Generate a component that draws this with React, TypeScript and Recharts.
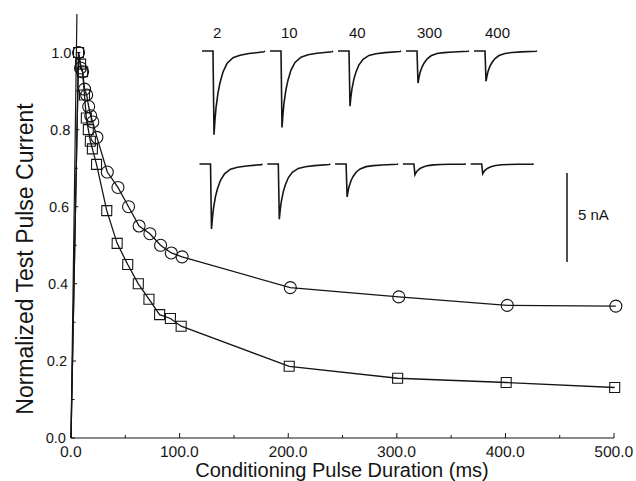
import React from "react";
import { ComposedChart, Line, Scatter, XAxis, YAxis } from "recharts";

// conditioning pulse durations (ms)
const durations = [2, 4, 6, 8, 10, 12, 14, 16, 20, 30, 40, 50, 60, 70, 80, 90, 100, 200, 300, 400, 500];
// normalized test pulse current, circles
const circleValues = [1.0, 0.96, 0.95, 0.905, 0.89, 0.86, 0.836, 0.82, 0.78, 0.69, 0.65, 0.6, 0.55, 0.53, 0.5, 0.48, 0.47, 0.39, 0.366, 0.344, 0.342];
// normalized test pulse current, squares
const squareValues = [1.0, 0.97, 0.95, 0.89, 0.83, 0.8, 0.77, 0.75, 0.71, 0.59, 0.505, 0.45, 0.4, 0.36, 0.32, 0.31, 0.29, 0.186, 0.155, 0.144, 0.131];
// the curves start at the origin
const curveStart = { x: 0, y: 0 };

const xTicks = [0, 50, 100, 150, 200, 250, 300, 350, 400, 450, 500];
const yTicks = [0, 0.1, 0.2, 0.3, 0.4, 0.5, 0.6, 0.7, 0.8, 0.9, 1.0];

// inset: example current traces (peak amplitude in nA)
const traceLabels = ["2", "10", "40", "300", "400"];
const topPeaks = [4.7, 4.3, 3.1, 1.8, 1.7];
const bottomPeaks = [3.65, 3.1, 1.85, 0.6, 0.55];
// recovery shape: px after peak, fraction of peak left
const decayT = [0, 1, 2, 4, 6, 9, 13, 19, 26, 35, 50];
const decayFrac = [1, 0.82, 0.68, 0.5, 0.38, 0.25, 0.15, 0.08, 0.05, 0.03, 0.01];

const circleData = durations.map((x, i) => ({ x, y: circleValues[i] }));
const squareData = durations.map((x, i) => ({ x, y: squareValues[i] }));

const FONT = "'Liberation Sans', Arial, Helvetica, sans-serif";
const INK = "#151515";
const PLOT_LEFT = 71;
const PLOT_BOTTOM = 438;
const PX_PER_NA = 17.8;

const XTick = (props: any) => {
  const { x, payload } = props;
  const v = payload.value as number;
  const major = v % 100 === 0;
  return (
    <g>
      <line x1={x} x2={x} y1={PLOT_BOTTOM} y2={PLOT_BOTTOM - (major ? 5 : 3)} stroke={INK} />
      {major && (
        <text x={x} y={457} textAnchor="middle" fontSize={15.5} fontFamily={FONT} fill={INK}>
          {v.toFixed(1)}
        </text>
      )}
    </g>
  );
};

const YTick = (props: any) => {
  const { y, payload } = props;
  const v = payload.value as number;
  const major = Math.round(v * 10) % 2 === 0;
  return (
    <g>
      <line x1={PLOT_LEFT} x2={PLOT_LEFT + (major ? 4 : 3)} y1={y} y2={y} stroke={INK} />
      {major && (
        <text x={66} y={y + 5} textAnchor="end" fontSize={14.5} fontFamily={FONT} fill={INK}>
          {v.toFixed(1)}
        </text>
      )}
    </g>
  );
};

const circleShape = (p: any) => <circle cx={p.cx} cy={p.cy} r={6} fill="none" stroke={INK} strokeWidth={1.1} />;
const squareShape = (p: any) => (
  <rect x={p.cx - 5} y={p.cy - 5} width={10} height={10} fill="none" stroke={INK} strokeWidth={1.1} />
);

function tracePath(dropX: number, baseY: number, peakNa: number) {
  const amp = peakNa * PX_PER_NA;
  let d = `M ${dropX - 11} ${baseY} L ${dropX} ${baseY} L ${dropX + 1} ${baseY + amp}`;
  decayT.forEach((t, i) => {
    d += ` L ${dropX + 1 + t} ${baseY + amp * decayFrac[i]}`;
  });
  d += ` L ${dropX + 52} ${baseY}`;
  return d;
}

function Inset() {
  return (
    <svg width={636} height={481} style={{ position: "absolute", left: 0, top: 0, pointerEvents: "none" }}>
      {traceLabels.map((lab, i) => {
        const topX = 213 + i * 68;
        const botX = 210.5 + i * 67.8;
        return (
          <g key={lab}>
            <text x={topX} y={38} fontSize={15} fontFamily={FONT} fill={INK}>
              {lab}
            </text>
            <path d={tracePath(topX, 51, topPeaks[i])} fill="none" stroke={INK} strokeWidth={1.6} />
            <path d={tracePath(botX, 164, bottomPeaks[i])} fill="none" stroke={INK} strokeWidth={1.6} />
          </g>
        );
      })}
      {/* 5 nA scale bar */}
      <line x1={567} x2={567} y1={173} y2={173 + 5 * PX_PER_NA} stroke={INK} strokeWidth={1.5} />
      <text x={578} y={220} fontSize={15} fontFamily={FONT} fill={INK}>
        5 nA
      </text>
    </svg>
  );
}

export default function App() {
  return (
    <div style={{ position: "absolute", left: 0, top: 0, width: 636, height: 481, background: "#fff" }}>
      {/* the scanned original leans slightly to the right */}
      <div style={{ position: "absolute", left: 0, top: 0, transform: "skewX(-0.8deg)", transformOrigin: "0 438px" }}>
        <ComposedChart width={636} height={481} margin={{ top: 14, right: 22, bottom: 0, left: 0 }}>
          <XAxis
            dataKey="x"
            type="number"
            domain={[0, 500]}
            ticks={xTicks}
            interval={0}
            height={43}
            axisLine={{ stroke: INK, strokeWidth: 1.2 }}
            tickLine={false}
            tick={<XTick />}
          />
          <YAxis
            type="number"
            domain={[0, 1.1]}
            ticks={yTicks}
            interval={0}
            width={71}
            axisLine={{ stroke: INK, strokeWidth: 1.2 }}
            tickLine={false}
            tick={<YTick />}
          />
          <Line
            data={[curveStart, ...circleData]}
            dataKey="y"
            type="linear"
            stroke={INK}
            strokeWidth={1.3}
            dot={false}
            isAnimationActive={false}
          />
          <Line
            data={[curveStart, ...squareData]}
            dataKey="y"
            type="linear"
            stroke={INK}
            strokeWidth={1.3}
            dot={false}
            isAnimationActive={false}
          />
          <Scatter data={circleData} dataKey="y" shape={circleShape} isAnimationActive={false} />
          <Scatter data={squareData} dataKey="y" shape={squareShape} isAnimationActive={false} />
        </ComposedChart>
      </div>
      <svg width={636} height={481} style={{ position: "absolute", left: 0, top: 0, pointerEvents: "none" }}>
        <text
          transform="translate(33 259) rotate(-90)"
          textAnchor="middle"
          fontSize={23}
          fontFamily={FONT}
          fill={INK}
        >
          Normalized Test Pulse Current
        </text>
        <text x={342} y={477} textAnchor="middle" fontSize={20} fontFamily={FONT} fill={INK}>
          Conditioning Pulse Duration (ms)
        </text>
      </svg>
      <Inset />
    </div>
  );
}
